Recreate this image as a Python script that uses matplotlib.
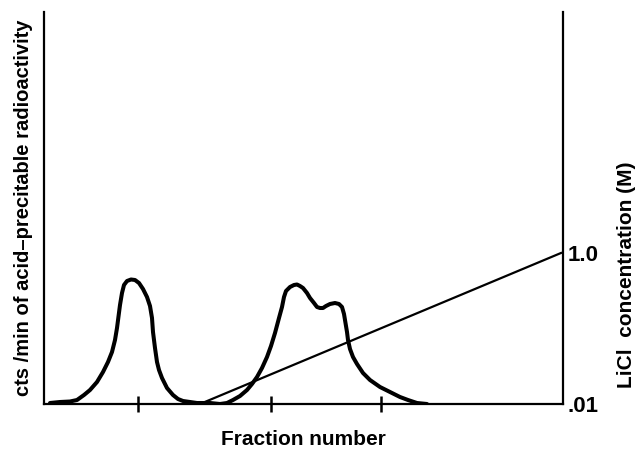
import matplotlib
matplotlib.use("Agg")
import matplotlib.pyplot as plt

# Elution profile (fraction number, cts/min)
fraction = [0.6, 1.6, 2.6, 3.3, 4.0, 4.6, 5.3, 5.9, 6.4, 6.8, 7.1, 7.3, 7.6,
            7.8, 8.0, 8.3, 8.7, 9.1, 9.5, 9.9, 10.3, 10.6, 10.8, 10.9, 11.1,
            11.3, 11.5, 11.8, 12.3, 12.9, 13.4, 13.9, 14.6, 15.3, 16.6, 17.6,
            18.3, 18.9, 19.6, 20.3, 20.8, 21.3, 21.8, 22.3, 22.7, 23.1, 23.5,
            23.8, 24.0, 24.2, 24.6, 25.0, 25.3, 25.6, 25.9, 26.3, 26.6, 27.0,
            27.3, 27.6, 27.9, 28.2, 28.6, 29.1, 29.5, 29.8, 30.0, 30.1, 30.3,
            30.4, 30.6, 30.9, 31.3, 31.9, 32.6, 33.6, 34.6, 35.6, 36.4, 37.3,
            38.3]
cpm = [10, 20, 25, 40, 90, 140, 220, 320, 420, 520, 640, 760, 990,
       1110, 1190, 1230, 1245, 1240, 1210, 1150, 1070, 980, 860, 720, 560,
       420, 340, 260, 160, 90, 50, 30, 20, 10, 10, 0,
       10, 40, 80, 140, 200, 270, 360, 470, 580, 710, 860,
       970, 1070, 1130, 1170, 1190, 1195, 1180, 1160, 1110, 1060, 1010,
       970, 960, 960, 980, 1000, 1010, 1000, 970, 900, 840, 720,
       640, 550, 470, 400, 310, 240, 170, 120, 70, 40, 10,
       0]

# LiCl gradient (fraction number, M)
grad_fraction = [15.6, 51.7]
grad_conc = [0.01, 1.0]

# ticks on the fraction axis (unlabelled)
x_ticks = [9.4, 22.7, 33.7]
conc_ticks = [0.01, 1.0]
conc_ticklabels = [".01", "1.0"]

plt.rcParams['font.family'] = ['Liberation Sans', 'DejaVu Sans']
plt.rcParams['font.weight'] = 'bold'

W, H = 642, 454
fig = plt.figure(figsize=(W / 100, H / 100), dpi=100)
ax = fig.add_axes([44 / W, (H - 404) / H, (563 - 44) / W, (404 - 12) / H])

ax.plot(fraction, cpm, color='black', lw=2.9, solid_joinstyle='round',
        solid_capstyle='round', zorder=3)
ax.set_xlim(0, 51.9)
ax.set_ylim(0, 3920)
ax.set_xticks(x_ticks)
ax.set_xticklabels([])
ax.set_yticks([])
ax.tick_params(axis='x', direction='inout', length=11, width=1.8, color='black')
for s in ['top', 'right']:
    ax.spines[s].set_visible(False)
for s in ['left', 'bottom']:
    ax.spines[s].set_linewidth(1.6)
ax.set_xlabel("Fraction number", fontsize=15, fontweight='bold', labelpad=10)
ax.set_ylabel("cts /min of acid\u2013precitable radioactivity", fontsize=14.5,
              fontweight='bold', labelpad=8)

ax2 = ax.twinx()
ax2.set_yscale('log')
ax2.plot(grad_fraction, grad_conc, color='black', lw=1.6)
ax2.set_ylim(0.01, 1555)
ax2.set_yticks(conc_ticks)
ax2.set_yticklabels(conc_ticklabels, fontsize=16, fontweight='bold')
ax2.minorticks_off()
ax2.tick_params(axis='y', length=0, pad=3)
for s in ['top', 'left', 'bottom']:
    ax2.spines[s].set_visible(False)
ax2.spines['right'].set_linewidth(1.6)
ax2.set_xlim(0, 51.9)

fig.text(627 / W, 1 - 275 / H, "LiCl  concentration (M)", rotation=90,
         ha='center', va='center', fontsize=15, fontweight='bold')

fig.savefig("out.png", dpi=100)
